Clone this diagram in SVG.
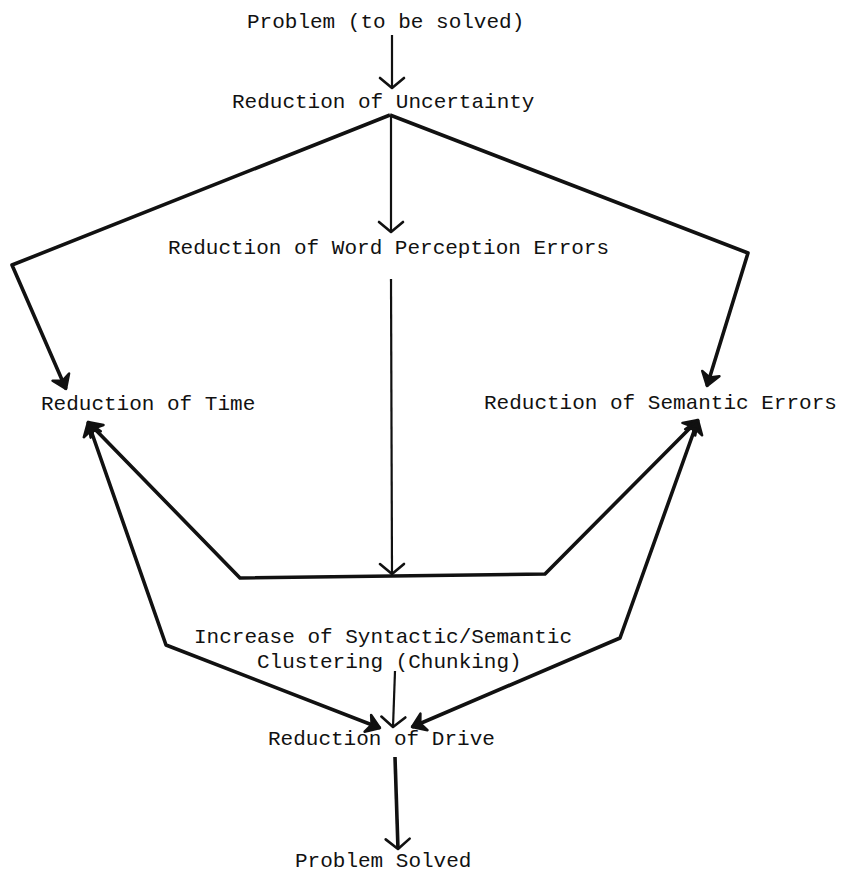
<svg xmlns="http://www.w3.org/2000/svg" width="841" height="872" viewBox="0 0 841 872">
<style>
text{font-family:"Liberation Mono","DejaVu Sans Mono",monospace;font-size:21px;fill:#111}
.thin{fill:none;stroke:#111;stroke-width:2.2;stroke-linejoin:round}
.thick{fill:none;stroke:#111;stroke-width:3.6;stroke-linejoin:round}
</style>
<defs>
<marker id="open" markerUnits="userSpaceOnUse" viewBox="-15 -15 30 30" markerWidth="30" markerHeight="30" refX="0" refY="0" orient="auto-start-reverse" overflow="visible">
<path d="M-10,-12 L0,0 L-10,12" fill="none" stroke="#111" stroke-width="2.6" stroke-linejoin="round" stroke-linecap="round"/>
</marker>
<marker id="bold" markerUnits="userSpaceOnUse" viewBox="-15 -15 30 30" markerWidth="30" markerHeight="30" refX="0" refY="0" orient="auto-start-reverse" overflow="visible">
<path d="M-13,-9 L0,0 L-13,9 L-9,0 Z" fill="#111" stroke="#111" stroke-width="2.5" stroke-linejoin="round"/>
</marker>
</defs>
<g id="connectors">
<line class="thin" x1="392" y1="35" x2="392" y2="88" marker-end="url(#open)"/>
<line class="thin" x1="391" y1="116" x2="391" y2="232" marker-end="url(#open)"/>
<polyline class="thick" points="390,115 12,265 66,389" marker-end="url(#bold)"/>
<polyline class="thick" points="390,115 748,253 707,386" marker-end="url(#bold)"/>
<line class="thin" x1="391" y1="279" x2="392" y2="574" marker-end="url(#open)"/>
<polyline class="thick" points="88,422 240,578 545,574 698,420" marker-start="url(#bold)" marker-end="url(#bold)"/>
<polyline class="thick" points="88,422 166,645 380,728" marker-start="url(#bold)" marker-end="url(#bold)"/>
<polyline class="thick" points="698,420 620,638 412,727" marker-start="url(#bold)" marker-end="url(#bold)"/>
<line class="thin" x1="395" y1="671" x2="393" y2="727" marker-end="url(#open)"/>
<line class="thick" x1="395" y1="757" x2="398" y2="849" marker-end="url(#open)"/>
</g>
<g id="problem"><text x="247" y="28">Problem (to be solved)</text></g>
<g id="uncertainty"><text x="232" y="108">Reduction of Uncertainty</text></g>
<g id="word-perception"><text x="168" y="254">Reduction of Word Perception Errors</text></g>
<g id="time"><text x="41" y="410">Reduction of Time</text></g>
<g id="semantic-errors"><text x="484" y="409">Reduction of Semantic Errors</text></g>
<g id="clustering"><text x="194" y="643">Increase of Syntactic/Semantic</text><text x="257" y="668">Clustering (Chunking)</text></g>
<g id="drive"><text x="268" y="745">Reduction of Drive</text></g>
<g id="solved"><text x="295" y="867">Problem Solved</text></g>
</svg>
